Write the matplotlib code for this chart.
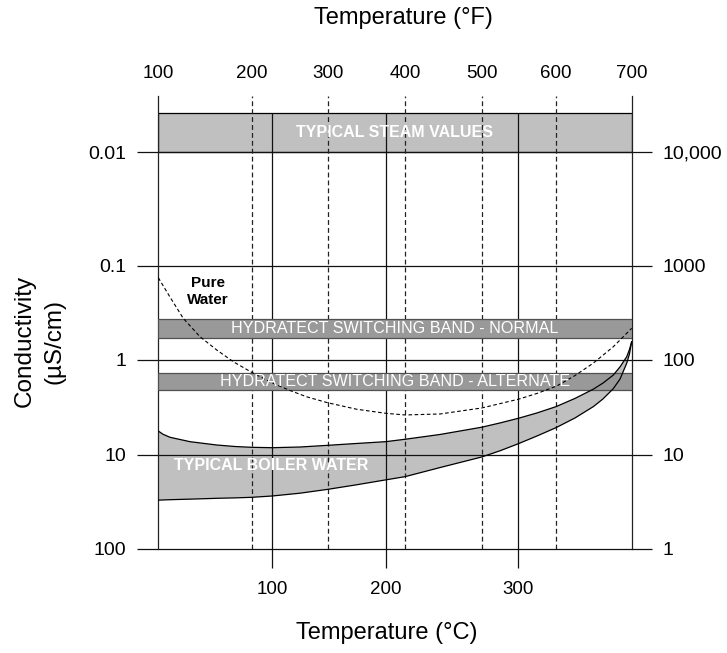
import numpy as np
import matplotlib
matplotlib.use("Agg")
import matplotlib.pyplot as plt
from matplotlib.transforms import blended_transform_factory

plt.rcParams['font.family'] = ['Liberation Sans', 'DejaVu Sans']
plt.rcParams['lines.scale_dashes'] = False

# ---- calibration of the original chart's (non-uniform) axes ----
C_KNOTS = [37.8, 100, 200, 300, 371.1]
C_FRAC = [0.0, 0.2408, 0.4804, 0.7605, 1.0]
F_KNOTS = [100, 200, 300, 400, 500, 600, 700]
F_FRAC = [0.0, 0.1979, 0.3578, 0.5211, 0.6831, 0.8401, 1.0]
LOG_KNOTS = [-3, -2, -1, 0, 1, 2]
LOG_FRAC = [-0.2859, 0.0, 0.2859, 0.5236, 0.7631, 1.0]

# ---- data ----
C_TICKS = [100, 200, 300]
F_TICKS = [100, 200, 300, 400, 500, 600, 700]
F_DASHED = [200, 300, 400, 500, 600]
COND_TICKS = [0.01, 0.1, 1, 10, 100]
COND_LABELS = ['0.01', '0.1', '1', '10', '100']
RES_TICKS = [10000, 1000, 100, 10, 1]
RES_LABELS = ['10,000', '1000', '100', '10', '1']
COND_TOP = 0.00319
COND_BOTTOM = 100

STEAM_BAND = (0.0045, 0.01)
NORMAL_BAND = (0.367, 0.58)
ALTERNATE_BAND = (1.38, 2.07)

BOILER_T = [37.8, 40.4, 44.2, 55.1, 69.7, 79.6, 88.9, 100, 124.4, 148.9, 173.8, 200,
            214.6, 241.0, 272.4, 286.2, 300, 311.7, 323.6, 335.5, 347.0, 353.1,
            359.6, 363.8, 368.0, 369.7, 371.1]
BOILER_LO = [5.59, 6.05, 6.51, 7.24, 7.85, 8.14, 8.30, 8.38, 8.24, 7.91, 7.57, 7.24,
             6.83, 6.08, 5.10, 4.60, 4.11, 3.61, 3.10, 2.54, 2.03, 1.75,
             1.44, 1.18, 0.923, 0.774, 0.640]
BOILER_HI = [30.2, 30.1, 29.9, 29.5, 28.9, 28.6, 28.2, 27.3, 25.5, 23.2, 20.8, 18.4,
             17.0, 13.6, 10.5, 9.03, 7.61, 6.31, 5.16, 4.08, 3.10, 2.57,
             2.00, 1.585, 1.08, 0.864, 0.640]

PURE_T = [37.8, 44.2, 51.4, 60.55, 69.7, 78.7, 88.8, 100, 115.6, 130.3, 148.9,
          174.4, 200, 214.6, 241.0, 272.4, 300, 311.7, 324.1, 335.5, 347.0,
          359.6, 371.1]
PURE_C = [0.134, 0.215, 0.361, 0.566, 0.783, 1.042, 1.35, 1.746, 2.094, 2.44,
          2.82, 3.30, 3.64, 3.79, 3.70, 3.20, 2.59, 2.25, 1.88, 1.46, 1.08,
          0.723, 0.461]


def c_fwd(c):
    return np.interp(c, C_KNOTS, C_FRAC)


def c_inv(u):
    return np.interp(u, C_FRAC, C_KNOTS)


def f_fwd(f):
    return np.interp(f, F_KNOTS, F_FRAC)


def f_inv(u):
    return np.interp(u, F_FRAC, F_KNOTS)


def y_fwd(y):
    lg = np.log10(np.clip(np.asarray(y, dtype=float), 1e-12, None))
    return np.interp(lg, LOG_KNOTS, LOG_FRAC)


def y_inv(v):
    return 10 ** np.interp(v, LOG_FRAC, LOG_KNOTS)


def f_to_chart_c(f):
    return c_inv(f_fwd(f))


fig = plt.figure(figsize=(7.27, 6.53), dpi=100)
ax = fig.add_axes([0.2177, 0.1593, 0.6512, 0.6937])
ax.set_xscale('function', functions=(c_fwd, c_inv))
ax.set_yscale('function', functions=(y_fwd, y_inv))
ax.set_xlim(C_KNOTS[0], C_KNOTS[-1])
ax.set_ylim(COND_BOTTOM, COND_TOP)

for s in ['top', 'bottom']:
    ax.spines[s].set_visible(False)
for s in ['left', 'right']:
    ax.spines[s].set_linewidth(0.9)
    ax.spines[s].set_color('#222222')

# bands and fills
ax.axhspan(*STEAM_BAND, fc='#c0c0c0', ec='black', lw=0.9, zorder=1)
ax.fill_between(BOILER_T, BOILER_LO, BOILER_HI, fc='#c0c0c0', ec='none', zorder=1)

# grid
ax.hlines(COND_TICKS, C_KNOTS[0], C_KNOTS[-1], colors='#111111', lw=0.9,
          zorder=2, clip_on=False)
ax.vlines(C_TICKS, STEAM_BAND[0], COND_BOTTOM, colors='#111111', lw=0.9, zorder=2)
for f in F_DASHED:
    ax.axvline(f_to_chart_c(f), color='#222222', lw=0.9, ls=(0, (3.5, 2.2)), zorder=2)

ax.axhspan(*NORMAL_BAND, fc='#999999', ec='#505050', lw=0.9, zorder=3)
ax.axhspan(*ALTERNATE_BAND, fc='#999999', ec='#505050', lw=0.9, zorder=3)

ax.plot(BOILER_T, BOILER_LO, color='black', lw=0.9, zorder=4)
ax.plot(BOILER_T, BOILER_HI, color='black', lw=0.9, zorder=4)
ax.plot(PURE_T, PURE_C, color='black', lw=0.8, ls=(0, (2.6, 1.8)), zorder=4)

# texts inside
tr = blended_transform_factory(ax.transAxes, ax.transData)
ax.text(0.5, np.sqrt(STEAM_BAND[0] * STEAM_BAND[1]), 'TYPICAL STEAM VALUES',
        transform=tr, ha='center', va='center', color='white', fontsize=11.5,
        fontweight='bold', zorder=5)
ax.text(0.5, np.sqrt(NORMAL_BAND[0] * NORMAL_BAND[1]), 'HYDRATECT SWITCHING BAND - NORMAL',
        transform=tr, ha='center', va='center', color='white', fontsize=11.6, zorder=5)
ax.text(0.5, np.sqrt(ALTERNATE_BAND[0] * ALTERNATE_BAND[1]), 'HYDRATECT SWITCHING BAND - ALTERNATE',
        transform=tr, ha='center', va='center', color='white', fontsize=11.6, zorder=5)
ax.text(0.033, 13.0, 'TYPICAL BOILER WATER', transform=tr, ha='left', va='center',
        color='white', fontsize=11.5, fontweight='bold', zorder=5)
ax.text(0.1056, 0.188, 'Pure\nWater', transform=tr, ha='center', va='center',
        color='black', fontsize=11, fontweight='bold', linespacing=1.25, zorder=5)

# ticks: left (conductivity) and bottom (deg C)
ax.set_yticks(COND_TICKS, COND_LABELS)
ax.minorticks_off()
ax.tick_params(axis='y', which='major', direction='out', length=15, width=0.9,
               pad=8, labelsize=14, left=True, right=False, color='#111111')
ax.set_xticks(C_TICKS, [str(c) for c in C_TICKS])
ax.tick_params(axis='x', which='major', direction='out', length=13.7, width=0.9,
               pad=9, labelsize=13.5, color='#111111')

# top (deg F)
ax2 = ax.twiny()
ax2.set_xscale('function', functions=(f_fwd, f_inv))
ax2.set_xlim(F_KNOTS[0], F_KNOTS[-1])
ax2.set_xticks(F_TICKS, [str(f) for f in F_TICKS])
ax2.minorticks_off()
ax2.tick_params(axis='x', length=0, pad=10, labelsize=13.5)
for s in ax2.spines.values():
    s.set_visible(False)

# right (resistivity)
ax3 = ax.twinx()
ax3.set_yscale('function', functions=(y_fwd, y_inv))
ax3.set_ylim(COND_BOTTOM, COND_TOP)
ax3.set_yticks([100.0 / r for r in RES_TICKS], RES_LABELS)
ax3.minorticks_off()
ax3.tick_params(axis='y', direction='out', length=14.4, width=0.9, pad=8,
                labelsize=14, color='#111111')
for s in ax3.spines.values():
    s.set_visible(False)

fig.text(403 / 727, 1 - 18 / 653, 'Temperature (°F)', ha='center', va='center', fontsize=17)
fig.text(387 / 727, 1 - 633 / 653, 'Temperature (°C)', ha='center', va='center', fontsize=17)
fig.text(40 / 727, 1 - 341 / 653, 'Conductivity\n(µS/cm)', ha='center', va='center',
         rotation=90, fontsize=17.5, linespacing=1.45, multialignment='center')

fig.savefig('out.png', dpi=100)
